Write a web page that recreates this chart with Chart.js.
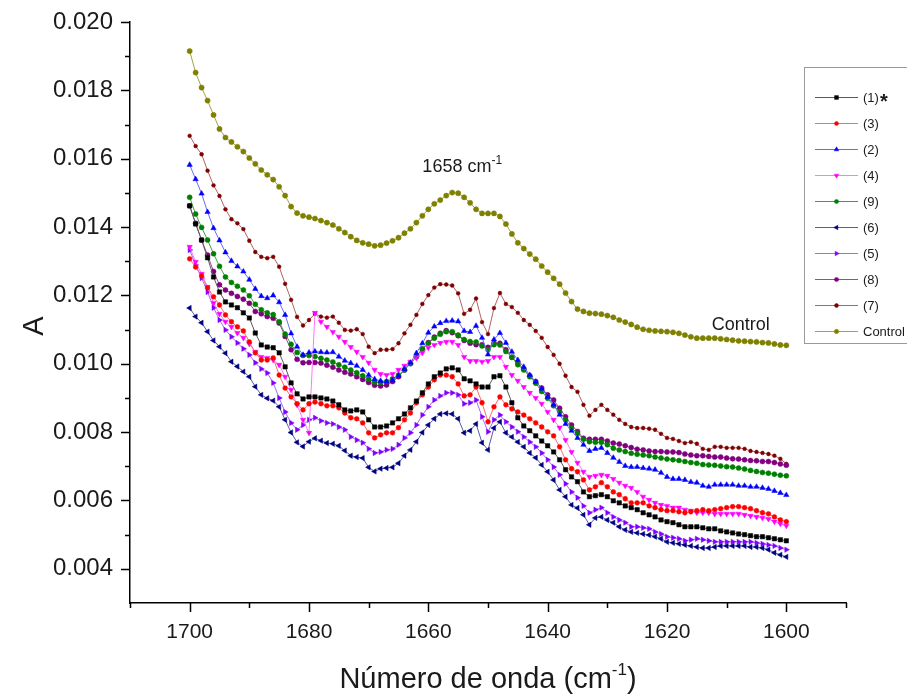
<!DOCTYPE html>
<html>
<head>
<meta charset="utf-8">
<title>Espectros - amida I</title>
<script src="https://cdn.jsdelivr.net/npm/chart.js@4.4.0/dist/chart.umd.min.js"></script>
<style>
  html, body { margin: 0; padding: 0; background: #fff; }
  #wrap { width: 907px; height: 698px; }
</style>
</head>
<body>
<div id="wrap"><canvas id="chart" width="907" height="698"></canvas></div>
<script>
// wavenumbers, cm-1 (one point per cm-1)
const wavenumber = [
  1700, 1699, 1698, 1697, 1696, 1695, 1694, 1693, 1692, 1691,
  1690, 1689, 1688, 1687, 1686, 1685, 1684, 1683, 1682, 1681,
  1680, 1679, 1678, 1677, 1676, 1675, 1674, 1673, 1672, 1671,
  1670, 1669, 1668, 1667, 1666, 1665, 1664, 1663, 1662, 1661,
  1660, 1659, 1658, 1657, 1656, 1655, 1654, 1653, 1652, 1651,
  1650, 1649, 1648, 1647, 1646, 1645, 1644, 1643, 1642, 1641,
  1640, 1639, 1638, 1637, 1636, 1635, 1634, 1633, 1632, 1631,
  1630, 1629, 1628, 1627, 1626, 1625, 1624, 1623, 1622, 1621,
  1620, 1619, 1618, 1617, 1616, 1615, 1614, 1613, 1612, 1611,
  1610, 1609, 1608, 1607, 1606, 1605, 1604, 1603, 1602, 1601, 1600
];

// absorbance of each sample
const sample1 = [
  0.01462, 0.01409, 0.01362, 0.01310, 0.01254, 0.01210, 0.01181, 0.01172, 0.01164, 0.01149,
  0.01134, 0.01090, 0.01055, 0.01049, 0.01047, 0.01032, 0.00991, 0.00944, 0.00912, 0.00897,
  0.00903, 0.00903, 0.00900, 0.00897, 0.00891, 0.00880, 0.00865, 0.00862, 0.00865, 0.00859,
  0.00836, 0.00815, 0.00815, 0.00818, 0.00827, 0.00839, 0.00853, 0.00871, 0.00891, 0.00915,
  0.00941, 0.00962, 0.00973, 0.00985, 0.00988, 0.00982, 0.00956, 0.00950, 0.00941, 0.00932,
  0.00932, 0.00962, 0.00965, 0.00932, 0.00886, 0.00842, 0.00818, 0.00804, 0.00789, 0.00774,
  0.00760, 0.00742, 0.00719, 0.00690, 0.00669, 0.00655, 0.00625, 0.00611, 0.00614, 0.00617,
  0.00611, 0.00599, 0.00593, 0.00584, 0.00579, 0.00573, 0.00564, 0.00558, 0.00552, 0.00543,
  0.00538, 0.00535, 0.00529, 0.00523, 0.00523, 0.00523, 0.00520, 0.00517, 0.00517, 0.00511,
  0.00508, 0.00505, 0.00502, 0.00500, 0.00497, 0.00494, 0.00494, 0.00491, 0.00488, 0.00485, 0.00482
];
const sample3 = [
  0.01307, 0.01283, 0.01257, 0.01222, 0.01196, 0.01172, 0.01143, 0.01123, 0.01108, 0.01096,
  0.01064, 0.01032, 0.01011, 0.01011, 0.01017, 0.00967, 0.00929, 0.00903, 0.00883, 0.00865,
  0.00883, 0.00888, 0.00883, 0.00877, 0.00877, 0.00871, 0.00856, 0.00842, 0.00839, 0.00827,
  0.00798, 0.00783, 0.00792, 0.00798, 0.00798, 0.00813, 0.00836, 0.00856, 0.00886, 0.00909,
  0.00932, 0.00953, 0.00967, 0.00967, 0.00962, 0.00941, 0.00906, 0.00909, 0.00932, 0.00886,
  0.00830, 0.00874, 0.00903, 0.00880, 0.00868, 0.00859, 0.00850, 0.00839, 0.00827, 0.00815,
  0.00801, 0.00789, 0.00757, 0.00719, 0.00693, 0.00684, 0.00660, 0.00631, 0.00640, 0.00652,
  0.00640, 0.00625, 0.00617, 0.00605, 0.00593, 0.00593, 0.00593, 0.00584, 0.00579, 0.00573,
  0.00570, 0.00570, 0.00567, 0.00564, 0.00567, 0.00570, 0.00573, 0.00570, 0.00573, 0.00576,
  0.00579, 0.00582, 0.00582, 0.00579, 0.00576, 0.00570, 0.00564, 0.00561, 0.00552, 0.00543, 0.00538
];
const sample2 = [
  0.01582, 0.01540, 0.01498, 0.01444, 0.01397, 0.01361, 0.01326, 0.01301, 0.01285, 0.01270,
  0.01246, 0.01219, 0.01198, 0.01192, 0.01200, 0.01180, 0.01143, 0.01089, 0.01050, 0.01026,
  0.01033, 0.01036, 0.01034, 0.01033, 0.01034, 0.01021, 0.01009, 0.01002, 0.00994, 0.00982,
  0.00967, 0.00955, 0.00950, 0.00948, 0.00951, 0.00965, 0.00984, 0.01003, 0.01031, 0.01060,
  0.01091, 0.01109, 0.01119, 0.01125, 0.01126, 0.01124, 0.01096, 0.01093, 0.01111, 0.01076,
  0.01027, 0.01071, 0.01090, 0.01061, 0.01035, 0.01011, 0.00991, 0.00967, 0.00947, 0.00927,
  0.00903, 0.00880, 0.00851, 0.00824, 0.00804, 0.00783, 0.00763, 0.00745, 0.00751, 0.00754,
  0.00739, 0.00725, 0.00713, 0.00701, 0.00698, 0.00698, 0.00695, 0.00693, 0.00690, 0.00681,
  0.00669, 0.00663, 0.00663, 0.00660, 0.00654, 0.00652, 0.00643, 0.00640, 0.00646, 0.00646,
  0.00646, 0.00646, 0.00643, 0.00643, 0.00640, 0.00640, 0.00637, 0.00634, 0.00628, 0.00622, 0.00616
];
const sample4 = [
  0.01342, 0.01298, 0.01263, 0.01225, 0.01178, 0.01146, 0.01123, 0.01108, 0.01090, 0.01076,
  0.01058, 0.01035, 0.01020, 0.01017, 0.01011, 0.00997, 0.00962, 0.00924, 0.00880, 0.00836,
  0.00798, 0.01149, 0.01123, 0.01108, 0.01093, 0.01079, 0.01064, 0.01049, 0.01035, 0.01020,
  0.01003, 0.00982, 0.00970, 0.00967, 0.00970, 0.00982, 0.00994, 0.01006, 0.01017, 0.01032,
  0.01047, 0.01055, 0.01061, 0.01064, 0.01064, 0.01055, 0.01020, 0.01008, 0.01008, 0.01006,
  0.01008, 0.01020, 0.01020, 0.00991, 0.00967, 0.00950, 0.00932, 0.00915, 0.00900, 0.00883,
  0.00859, 0.00836, 0.00813, 0.00777, 0.00742, 0.00710, 0.00684, 0.00669, 0.00672, 0.00675,
  0.00672, 0.00663, 0.00652, 0.00643, 0.00637, 0.00625, 0.00611, 0.00602, 0.00593, 0.00587,
  0.00584, 0.00579, 0.00579, 0.00573, 0.00570, 0.00564, 0.00564, 0.00564, 0.00561, 0.00561,
  0.00561, 0.00561, 0.00561, 0.00558, 0.00555, 0.00552, 0.00549, 0.00546, 0.00538, 0.00532, 0.00526
];
const sample9 = [
  0.01487, 0.01438, 0.01399, 0.01362, 0.01322, 0.01285, 0.01254, 0.01238, 0.01227, 0.01216,
  0.01199, 0.01174, 0.01158, 0.01149, 0.01144, 0.01123, 0.01087, 0.01057, 0.01033, 0.01024,
  0.01024, 0.01021, 0.01016, 0.01011, 0.01005, 0.00997, 0.00990, 0.00982, 0.00974, 0.00965,
  0.00955, 0.00946, 0.00945, 0.00948, 0.00956, 0.00967, 0.00982, 0.01000, 0.01021, 0.01043,
  0.01060, 0.01075, 0.01086, 0.01094, 0.01094, 0.01084, 0.01071, 0.01065, 0.01064, 0.01052,
  0.01041, 0.01056, 0.01055, 0.01036, 0.01019, 0.00997, 0.00982, 0.00962, 0.00943, 0.00919,
  0.00899, 0.00877, 0.00860, 0.00836, 0.00812, 0.00797, 0.00779, 0.00772, 0.00770, 0.00770,
  0.00763, 0.00753, 0.00748, 0.00743, 0.00738, 0.00735, 0.00733, 0.00731, 0.00727, 0.00724,
  0.00721, 0.00719, 0.00717, 0.00714, 0.00711, 0.00709, 0.00705, 0.00704, 0.00703, 0.00701,
  0.00699, 0.00698, 0.00695, 0.00692, 0.00688, 0.00685, 0.00682, 0.00680, 0.00677, 0.00674, 0.00672
];
const sample6 = [
  0.01163, 0.01138, 0.01120, 0.01094, 0.01068, 0.01050, 0.01031, 0.01006, 0.00992, 0.00977,
  0.00962, 0.00933, 0.00909, 0.00899, 0.00892, 0.00874, 0.00836, 0.00799, 0.00770, 0.00758,
  0.00772, 0.00782, 0.00775, 0.00768, 0.00766, 0.00760, 0.00746, 0.00731, 0.00727, 0.00724,
  0.00697, 0.00685, 0.00693, 0.00695, 0.00697, 0.00709, 0.00731, 0.00748, 0.00772, 0.00799,
  0.00821, 0.00839, 0.00853, 0.00855, 0.00853, 0.00839, 0.00798, 0.00804, 0.00824, 0.00769,
  0.00748, 0.00812, 0.00830, 0.00798, 0.00786, 0.00771, 0.00757, 0.00739, 0.00725, 0.00704,
  0.00684, 0.00660, 0.00631, 0.00611, 0.00587, 0.00578, 0.00558, 0.00529, 0.00549, 0.00552,
  0.00543, 0.00535, 0.00523, 0.00514, 0.00508, 0.00505, 0.00502, 0.00499, 0.00494, 0.00488,
  0.00479, 0.00476, 0.00473, 0.00470, 0.00467, 0.00464, 0.00461, 0.00461, 0.00464, 0.00467,
  0.00467, 0.00467, 0.00467, 0.00467, 0.00464, 0.00464, 0.00461, 0.00456, 0.00447, 0.00441, 0.00435
];
const sample5 = [
  0.01333, 0.01289, 0.01251, 0.01210, 0.01164, 0.01128, 0.01099, 0.01079, 0.01061, 0.01044,
  0.01026, 0.01003, 0.00985, 0.00973, 0.00944, 0.00900, 0.00859, 0.00827, 0.00807, 0.00821,
  0.00836, 0.00842, 0.00833, 0.00827, 0.00824, 0.00815, 0.00807, 0.00786, 0.00777, 0.00769,
  0.00751, 0.00739, 0.00742, 0.00748, 0.00751, 0.00763, 0.00783, 0.00798, 0.00821, 0.00850,
  0.00874, 0.00894, 0.00906, 0.00915, 0.00915, 0.00909, 0.00883, 0.00886, 0.00894, 0.00845,
  0.00801, 0.00836, 0.00850, 0.00830, 0.00815, 0.00801, 0.00786, 0.00771, 0.00757, 0.00739,
  0.00719, 0.00698, 0.00675, 0.00649, 0.00625, 0.00608, 0.00584, 0.00564, 0.00573, 0.00579,
  0.00564, 0.00552, 0.00543, 0.00535, 0.00523, 0.00523, 0.00520, 0.00517, 0.00508, 0.00502,
  0.00494, 0.00491, 0.00488, 0.00482, 0.00485, 0.00488, 0.00485, 0.00482, 0.00479, 0.00479,
  0.00479, 0.00479, 0.00479, 0.00479, 0.00479, 0.00476, 0.00473, 0.00470, 0.00467, 0.00461, 0.00456
];
const sample8 = [
  0.01462, 0.01411, 0.01362, 0.01318, 0.01270, 0.01231, 0.01216, 0.01206, 0.01197, 0.01189,
  0.01177, 0.01153, 0.01146, 0.01138, 0.01133, 0.01119, 0.01080, 0.01041, 0.01013, 0.01003,
  0.01004, 0.01004, 0.01002, 0.00996, 0.00990, 0.00982, 0.00975, 0.00970, 0.00962, 0.00954,
  0.00945, 0.00937, 0.00935, 0.00938, 0.00948, 0.00962, 0.00982, 0.01002, 0.01021, 0.01043,
  0.01062, 0.01078, 0.01089, 0.01097, 0.01091, 0.01082, 0.01068, 0.01060, 0.01056, 0.01056,
  0.01048, 0.01060, 0.01060, 0.01041, 0.01019, 0.01002, 0.00984, 0.00965, 0.00948, 0.00929,
  0.00909, 0.00894, 0.00870, 0.00845, 0.00821, 0.00802, 0.00782, 0.00779, 0.00779, 0.00779,
  0.00774, 0.00768, 0.00765, 0.00760, 0.00755, 0.00750, 0.00748, 0.00745, 0.00743, 0.00743,
  0.00742, 0.00742, 0.00740, 0.00736, 0.00733, 0.00731, 0.00731, 0.00729, 0.00727, 0.00727,
  0.00724, 0.00722, 0.00721, 0.00719, 0.00717, 0.00716, 0.00714, 0.00714, 0.00711, 0.00707, 0.00703
];
const sample7 = [
  0.01667, 0.01637, 0.01613, 0.01565, 0.01522, 0.01491, 0.01452, 0.01423, 0.01411, 0.01394,
  0.01360, 0.01327, 0.01313, 0.01309, 0.01313, 0.01284, 0.01234, 0.01187, 0.01137, 0.01112,
  0.01128, 0.01146, 0.01138, 0.01135, 0.01138, 0.01120, 0.01099, 0.01097, 0.01101, 0.01087,
  0.01050, 0.01031, 0.01041, 0.01041, 0.01043, 0.01060, 0.01089, 0.01114, 0.01143, 0.01175,
  0.01201, 0.01223, 0.01233, 0.01232, 0.01229, 0.01206, 0.01146, 0.01158, 0.01191, 0.01122,
  0.01087, 0.01163, 0.01207, 0.01175, 0.01166, 0.01149, 0.01128, 0.01114, 0.01096, 0.01076,
  0.01049, 0.01026, 0.01000, 0.00965, 0.00932, 0.00918, 0.00880, 0.00848, 0.00865, 0.00880,
  0.00865, 0.00851, 0.00836, 0.00824, 0.00815, 0.00812, 0.00812, 0.00810, 0.00807, 0.00795,
  0.00783, 0.00780, 0.00774, 0.00768, 0.00771, 0.00766, 0.00751, 0.00748, 0.00757, 0.00757,
  0.00754, 0.00754, 0.00754, 0.00751, 0.00745, 0.00742, 0.00739, 0.00736, 0.00731, 0.00722, 0.00707
];
const control = [
  0.01915, 0.01852, 0.01808, 0.01770, 0.01728, 0.01687, 0.01662, 0.01649, 0.01635, 0.01621,
  0.01602, 0.01585, 0.01567, 0.01553, 0.01539, 0.01518, 0.01492, 0.01460, 0.01441, 0.01433,
  0.01429, 0.01425, 0.01419, 0.01413, 0.01406, 0.01395, 0.01384, 0.01372, 0.01361, 0.01354,
  0.01350, 0.01345, 0.01347, 0.01353, 0.01360, 0.01369, 0.01382, 0.01395, 0.01413, 0.01433,
  0.01452, 0.01468, 0.01479, 0.01492, 0.01501, 0.01499, 0.01487, 0.01471, 0.01452, 0.01440,
  0.01440, 0.01440, 0.01431, 0.01409, 0.01380, 0.01354, 0.01337, 0.01321, 0.01306, 0.01286,
  0.01268, 0.01250, 0.01233, 0.01207, 0.01182, 0.01160, 0.01153, 0.01148, 0.01147, 0.01145,
  0.01141, 0.01136, 0.01128, 0.01122, 0.01115, 0.01107, 0.01101, 0.01098, 0.01096, 0.01095,
  0.01094, 0.01092, 0.01089, 0.01084, 0.01079, 0.01075, 0.01075, 0.01075, 0.01075, 0.01073,
  0.01071, 0.01069, 0.01067, 0.01066, 0.01065, 0.01064, 0.01062, 0.01061, 0.01058, 0.01055, 0.01054
];

// axis ticks
const xTicks = [1700, 1680, 1660, 1640, 1620, 1600];
const xMinorTicks = [1710, 1690, 1670, 1650, 1630, 1610, 1590];
const yTicks = [0.004, 0.006, 0.008, 0.010, 0.012, 0.014, 0.016, 0.018, 0.020];
const yMinorTicks = [0.005, 0.007, 0.009, 0.011, 0.013, 0.015, 0.017, 0.019];

const FONT = "'Liberation Sans', Arial, Helvetica, sans-serif";

// label, values, marker colour, line colour, marker shape, rotation, size
const series = [
  ['(1)*', sample1, '#000000', '#5a5a5a', 'rect', 0, 3.1],
  ['(3)', sample3, '#ff0000', '#ff6a6a', 'circle', 0, 2.4],
  ['(2)', sample2, '#0000ff', '#6a6aff', 'triangle', 0, 3.1],
  ['(4)', sample4, '#ff00ff', '#ff77ff', 'triangle', 180, 3.1],
  ['(9)', sample9, '#008000', '#3f9f3f', 'circle', 0, 2.5],
  ['(6)', sample6, '#000080', '#5a5aa8', 'triangle', 270, 3.1],
  ['(5)', sample5, '#8000ff', '#a866ff', 'triangle', 90, 3.1],
  ['(8)', sample8, '#800080', '#9a4a9a', 'circle', 0, 2.5],
  ['(7)', sample7, '#800000', '#b06464', 'circle', 0, 1.9],
  ['Control', control, '#808000', '#a3a340', 'circle', 0, 2.6]
];

const datasets = series.map(s => ({
  label: s[0],
  data: s[1].map((a, i) => ({ x: wavenumber[i], y: a })),
  borderColor: s[3],
  borderWidth: 1,
  backgroundColor: s[2],
  pointBackgroundColor: s[2],
  pointBorderColor: s[2],
  pointBorderWidth: 0.5,
  pointStyle: s[4],
  pointRotation: s[5],
  pointRadius: s[6],
  tension: 0,
  fill: false
}));

// draws the tick marks, axis titles, the two notes and the legend box
const decorations = {
  id: 'decorations',
  afterDraw(chart) {
    const ctx = chart.ctx;
    const xs = chart.scales.x;
    const ys = chart.scales.y;
    const left = chart.chartArea.left;
    const bottom = chart.chartArea.bottom;
    ctx.save();

    ctx.strokeStyle = '#000';
    ctx.lineWidth = 1.5;
    ctx.beginPath();
    yTicks.forEach(v => { const p = Math.round(ys.getPixelForValue(v)) + 0.5; ctx.moveTo(left, p); ctx.lineTo(left - 9, p); });
    yMinorTicks.forEach(v => { const p = Math.round(ys.getPixelForValue(v)) + 0.5; ctx.moveTo(left, p); ctx.lineTo(left - 5, p); });
    xTicks.forEach(v => { const p = Math.round(xs.getPixelForValue(v)) + 0.5; ctx.moveTo(p, bottom); ctx.lineTo(p, bottom + 9); });
    xMinorTicks.forEach(v => { const p = Math.round(xs.getPixelForValue(v)) + 0.5; ctx.moveTo(p, bottom); ctx.lineTo(p, bottom + 5); });
    ctx.stroke();

    ctx.fillStyle = '#1a1a1a';
    ctx.textBaseline = 'alphabetic';

    // x axis title with superscript
    const t1 = 'Número de onda (cm';
    ctx.font = '17px ' + FONT;
    const wSup = ctx.measureText('-1').width;
    ctx.font = '29px ' + FONT;
    const w1 = ctx.measureText(t1).width;
    const w2 = ctx.measureText(')').width;
    const cx = (xs.left + xs.right) / 2;
    const tx = cx - (w1 + wSup + w2) / 2;
    ctx.textAlign = 'left';
    ctx.fillText(t1, tx, 688);
    ctx.font = '17px ' + FONT;
    ctx.fillText('-1', tx + w1, 675);
    ctx.font = '29px ' + FONT;
    ctx.fillText(')', tx + w1 + wSup, 688);

    // y axis title
    ctx.save();
    ctx.translate(35, 326);
    ctx.rotate(-Math.PI / 2);
    ctx.textAlign = 'center';
    ctx.textBaseline = 'middle';
    ctx.font = '29px ' + FONT;
    ctx.fillText('A', 0, 0);
    ctx.restore();

    // band position note
    const nx = xs.getPixelForValue(1661);
    const ny = ys.getPixelForValue(0.0156);
    ctx.font = '18px ' + FONT;
    ctx.fillText('1658 cm', nx, ny);
    const wn = ctx.measureText('1658 cm').width;
    ctx.font = '12px ' + FONT;
    ctx.fillText('-1', nx + wn, ny - 8);

    ctx.font = '18px ' + FONT;
    ctx.fillText('Control', xs.getPixelForValue(1612.5), ys.getPixelForValue(0.01099));

    // legend
    ctx.strokeStyle = '#9a9a9a';
    ctx.lineWidth = 1;
    ctx.strokeRect(804.5, 67.5, 130, 276);
    chart.data.datasets.forEach((ds, i) => {
      const y = 97 + i * 26;
      ctx.strokeStyle = ds.borderColor;
      ctx.lineWidth = 1;
      ctx.beginPath();
      ctx.moveTo(815, y + 0.5);
      ctx.lineTo(858, y + 0.5);
      ctx.stroke();
      ctx.fillStyle = ds.pointBackgroundColor;
      ctx.strokeStyle = ds.pointBorderColor;
      ctx.lineWidth = 0.5;
      Chart.helpers.drawPoint(ctx, {
        pointStyle: ds.pointStyle,
        rotation: ds.pointRotation,
        radius: Math.max(ds.pointRadius - 0.4, 2),
        borderWidth: 0.5
      }, 836.5, y + 0.5);
      ctx.fillStyle = '#1a1a1a';
      ctx.textBaseline = 'middle';
      ctx.font = '13px ' + FONT;
      let label = ds.label;
      const star = label.endsWith('*');
      if (star) label = label.slice(0, -1);
      ctx.fillText(label, 863, y + 1);
      if (star) {
        const w = ctx.measureText(label).width;
        ctx.font = 'bold 20px ' + FONT;
        ctx.fillText('*', 864 + w, y + 5);
      }
    });
    ctx.restore();
  }
};

new Chart(document.getElementById('chart'), {
  type: 'line',
  data: { datasets: datasets },
  options: {
    responsive: false,
    animation: false,
    devicePixelRatio: 1,
    layout: { padding: { top: 22, right: 61, left: 0, bottom: 0 } },
    plugins: { legend: { display: false }, tooltip: { enabled: false } },
    scales: {
      x: {
        type: 'linear',
        min: 1590,
        max: 1710,
        reverse: true,
        afterFit: scale => { scale.height = 95; },
        afterBuildTicks: scale => { scale.ticks = xTicks.map(v => ({ value: v })); },
        grid: { display: false, drawTicks: true, tickLength: 8 },
        border: { display: true, color: '#000', width: 1.5 },
        ticks: {
          autoSkip: false,
          maxRotation: 0,
          padding: 9,
          color: '#1a1a1a',
          font: { family: FONT, size: 21 },
          callback: v => String(v)
        }
      },
      y: {
        type: 'linear',
        min: 0.003,
        max: 0.020,
        afterFit: scale => { scale.width = 130; },
        afterBuildTicks: scale => { scale.ticks = yTicks.map(v => ({ value: v })); },
        grid: { display: false, drawTicks: true, tickLength: 10 },
        border: { display: true, color: '#000', width: 1.5 },
        ticks: {
          autoSkip: false,
          padding: 7,
          color: '#1a1a1a',
          font: { family: FONT, size: 24 },
          callback: v => v.toFixed(3)
        }
      }
    }
  },
  plugins: [decorations]
});
</script>
</body>
</html>
